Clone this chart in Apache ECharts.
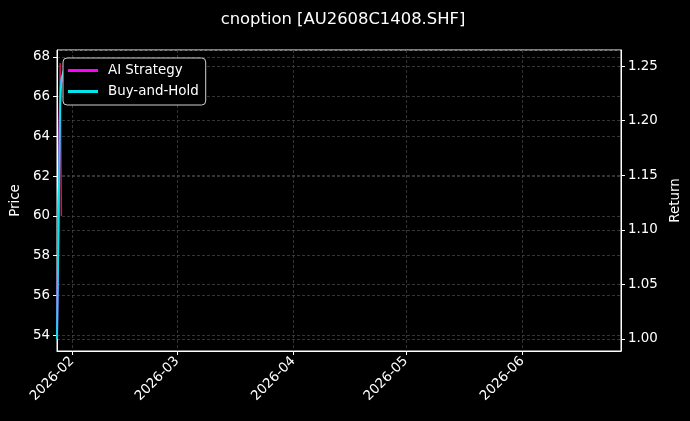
<!DOCTYPE html>
<html>
<head>
<meta charset="utf-8">
<script src="https://cdn.jsdelivr.net/npm/echarts@6/dist/echarts.min.js"></script>
<style>
	html, body { margin: 0; padding: 0; background: #000; }
	#chart { width: 690px; height: 421px; }
</style>
</head>
<body>
<div id="chart"></div>
<script type="text/javascript">
    // data
    var dates = ['2026-01-28 00:00', '2026-01-28 20:00', '2026-01-29 04:00', '2026-01-30 06:00'];
    var price = [54.0, 67.7, 60.0, null];
    var aiStrategy = [1.0, 1.228, 1.236, 1.24];
    var buyHold = [1.0, 1.215, 1.238, 1.252];
    var xRange = ['2026-01-28 00:00', '2026-06-27 08:00'];

    function pairs(vals) {
        var out = [];
        for (var i = 0; i < dates.length; i++) {
            out.push([dates[i], vals[i]]);
        }
        return out;
    }

    var fontFam = 'DejaVu Sans';
    var fs = 13.4;
    var gridLine = { show: true, lineStyle: { color: '#4a4a4a', type: [3, 2], width: 0.7 } };
    var myChart = echarts.init(document.getElementById('chart'));
    var option = {
        backgroundColor: '#000',
        animation: false,
        textStyle: { fontFamily: fontFam, color: '#fff' },
        title: {
            text: 'cnoption [AU2608C1408.SHF]',
            left: 338, top: 7, textAlign: 'center',
            textStyle: { color: '#fff', fontSize: 16.4, fontWeight: 'normal', fontFamily: fontFam }
        },
        legend: {
            data: ['AI Strategy', 'Buy-and-Hold'],
            orient: 'vertical',
            left: 63, top: 58,
            backgroundColor: '#000',
            borderColor: '#cfcfcf', borderWidth: 1, borderRadius: 4,
            padding: [6, 7, 7, 5],
            itemGap: 8,
            icon: 'rect', itemWidth: 30, itemHeight: 3,
            textStyle: { color: '#fff', fontSize: fs, fontFamily: fontFam, padding: [0, 0, 0, 5] }
        },
        grid: {
            left: 57, right: 69, top: 50, bottom: 70,
            show: true, borderColor: '#fff', borderWidth: 1
        },
        xAxis: {
            type: 'time',
            min: xRange[0], max: xRange[1],
            minInterval: 28 * 86400000, maxInterval: 31 * 86400000,
            axisLine: { lineStyle: { color: '#fff' } },
            axisTick: { show: true, length: 4, lineStyle: { color: '#fff' } },
            axisLabel: {
                color: '#fff', fontSize: fs, rotate: 45, margin: 8,
                formatter: '{yyyy}-{MM}', hideOverlap: false
            },
            splitLine: gridLine
        },
        yAxis: [{
            type: 'value', name: 'Price', nameLocation: 'middle', nameGap: 28, nameRotate: 90,
            nameTextStyle: { color: '#fff', fontSize: fs },
            min: 53.2, max: 68.35, splitNumber: 7,
            axisLine: { show: true, lineStyle: { color: '#fff' } },
            axisTick: { show: true, length: 4, lineStyle: { color: '#fff' } },
            axisLabel: { color: '#fff', fontSize: fs, margin: 7, showMinLabel: false, showMaxLabel: false },
            splitLine: gridLine
        }, {
            type: 'value', name: 'Return', nameLocation: 'middle', nameGap: 45, nameRotate: 90,
            nameTextStyle: { color: '#fff', fontSize: fs },
            min: 0.989, max: 1.2647, splitNumber: 5,
            axisLine: { show: true, lineStyle: { color: '#fff' } },
            axisTick: { show: true, length: 4, lineStyle: { color: '#fff' } },
            axisLabel: {
                color: '#fff', fontSize: fs, margin: 7, showMinLabel: false, showMaxLabel: false,
                formatter: function (v) { return v.toFixed(2); }
            },
            splitLine: gridLine
        }],
        series: [{
            name: 'Price', type: 'line', yAxisIndex: 0,
            data: pairs(price), showSymbol: false,
            lineStyle: { color: '#d4145a', width: 1.5 }, itemStyle: { color: '#d4145a' }
        }, {
            name: 'AI Strategy', type: 'line', yAxisIndex: 1,
            data: pairs(aiStrategy), showSymbol: false,
            lineStyle: { color: '#ff00ff', width: 2 }, itemStyle: { color: '#ff00ff' }
        }, {
            name: 'Buy-and-Hold', type: 'line', yAxisIndex: 1,
            data: pairs(buyHold), showSymbol: false,
            lineStyle: { color: '#00e5ee', width: 2 }, itemStyle: { color: '#00e5ee' }
        }]
    };
    myChart.setOption(option);
</script>
</body>
</html>
